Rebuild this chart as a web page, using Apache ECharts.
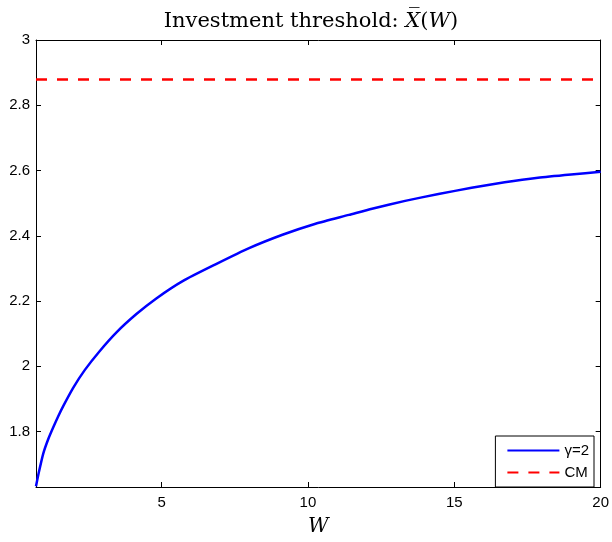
<!DOCTYPE html>
<html>
<head>
<meta charset="utf-8">
<script src="https://cdn.jsdelivr.net/npm/echarts@6/dist/echarts.min.js"></script>
<style>html,body{margin:0;padding:0;background:#fff;}#c{width:612px;height:542px;}</style>
</head>
<body>
<div id="c"></div>
<script>
// Data
const wValues = [0.71, 0.8, 0.96, 1.13, 1.3, 1.47, 1.64, 1.98, 2.38, 2.89, 3.46, 4.14, 4.82, 5.72, 6.86, 7.99, 9.13, 10.26, 11.4, 12.19, 13.32, 14.46, 15.59, 16.72, 17.86, 18.99, 20];
const gammaValues = [1.632, 1.672, 1.733, 1.777, 1.813, 1.847, 1.878, 1.934, 1.989, 2.047, 2.104, 2.160, 2.208, 2.261, 2.313, 2.362, 2.403, 2.437, 2.464, 2.483, 2.507, 2.528, 2.547, 2.564, 2.578, 2.588, 2.596];
const cmValue = 2.879;
const cmW = [0.71, 20];
const xTicks = [5, 10, 15, 20];
const yTicks = [1.8, 2, 2.2, 2.4, 2.6, 2.8, 3];
const seriesNames = ['\u03b3=2', 'CM'];

const gammaData = wValues.map((w, i) => [w, gammaValues[i]]);
const cmData = cmW.map(w => [w, cmValue]);

const chart = echarts.init(document.getElementById('c'), null, {renderer: 'canvas'});
const sans = 'Liberation Sans';
const serif = 'DejaVu Serif';
const axisBase = {
  type: 'value',
  axisLine: {show: true, onZero: false, lineStyle: {color: '#000', width: 1}},
  splitLine: {show: false}
};
chart.setOption({
  backgroundColor: '#fff',
  animation: false,
  title: {
    text: '{a|Investment threshold: }{b|X\u0305}{a|(}{b|W}{a|)}',
    left: 306, textAlign: 'center', top: 6,
    textStyle: {
      fontWeight: 'normal',
      rich: {
        a: {fontFamily: serif, fontSize: 21, fontWeight: 'normal', color: '#000'},
        b: {fontFamily: serif, fontSize: 21, fontWeight: 'normal', fontStyle: 'italic', color: '#000'}
      }
    }
  },
  grid: {left: 36, right: 9, top: 40, bottom: 49, containLabel: false},
  legend: {
    right: 18, top: 436, orient: 'vertical',
    backgroundColor: '#fff',
    borderColor: '#000', borderWidth: 1, borderRadius: 0,
    padding: [7, 5, 7, 11],
    itemWidth: 52, itemHeight: 14, itemGap: 7,
    itemStyle: {opacity: 0, borderWidth: 0},
    textStyle: {fontFamily: sans, fontSize: 15, color: '#000'},
    data: seriesNames
  },
  xAxis: [
    Object.assign({}, axisBase, {
      position: 'bottom', min: 0.71, max: 20,
      name: 'W', nameLocation: 'middle', nameGap: 30,
      nameTextStyle: {fontFamily: serif, fontStyle: 'italic', fontSize: 20, color: '#000'},
      axisTick: {show: true, inside: true, length: 5, lineStyle: {color: '#000'}, customValues: xTicks},
      axisLabel: {show: true, customValues: xTicks, fontFamily: sans, fontSize: 15, color: '#000', margin: 8}
    }),
    Object.assign({}, axisBase, {
      position: 'top', min: 0.71, max: 20,
      axisTick: {show: true, inside: true, length: 5, lineStyle: {color: '#000'}, customValues: xTicks},
      axisLabel: {show: false}
    })
  ],
  yAxis: [
    Object.assign({}, axisBase, {
      position: 'left', min: 1.63, max: 3,
      axisTick: {show: true, inside: true, length: 5, lineStyle: {color: '#000'}, customValues: yTicks},
      axisLabel: {show: true, customValues: yTicks, fontFamily: sans, fontSize: 15, color: '#000', margin: 6,
        formatter: v => String(Math.round(v * 10) / 10)}
    }),
    Object.assign({}, axisBase, {
      position: 'right', min: 1.63, max: 3,
      axisTick: {show: true, inside: true, length: 5, lineStyle: {color: '#000'}, customValues: yTicks},
      axisLabel: {show: false}
    })
  ],
  series: [
    {
      name: seriesNames[0], type: 'line', data: gammaData, smooth: 0.2,
      symbol: 'none', clip: true,
      lineStyle: {color: '#0000ff', width: 2.5, join: 'round'}, itemStyle: {color: '#0000ff'}
    },
    {
      name: seriesNames[1], type: 'line', data: cmData,
      symbol: 'none', clip: true,
      lineStyle: {color: '#ff0000', width: 2.5, type: [11, 10]}, itemStyle: {color: '#ff0000'}
    }
  ]
});
</script>
</body>
</html>
